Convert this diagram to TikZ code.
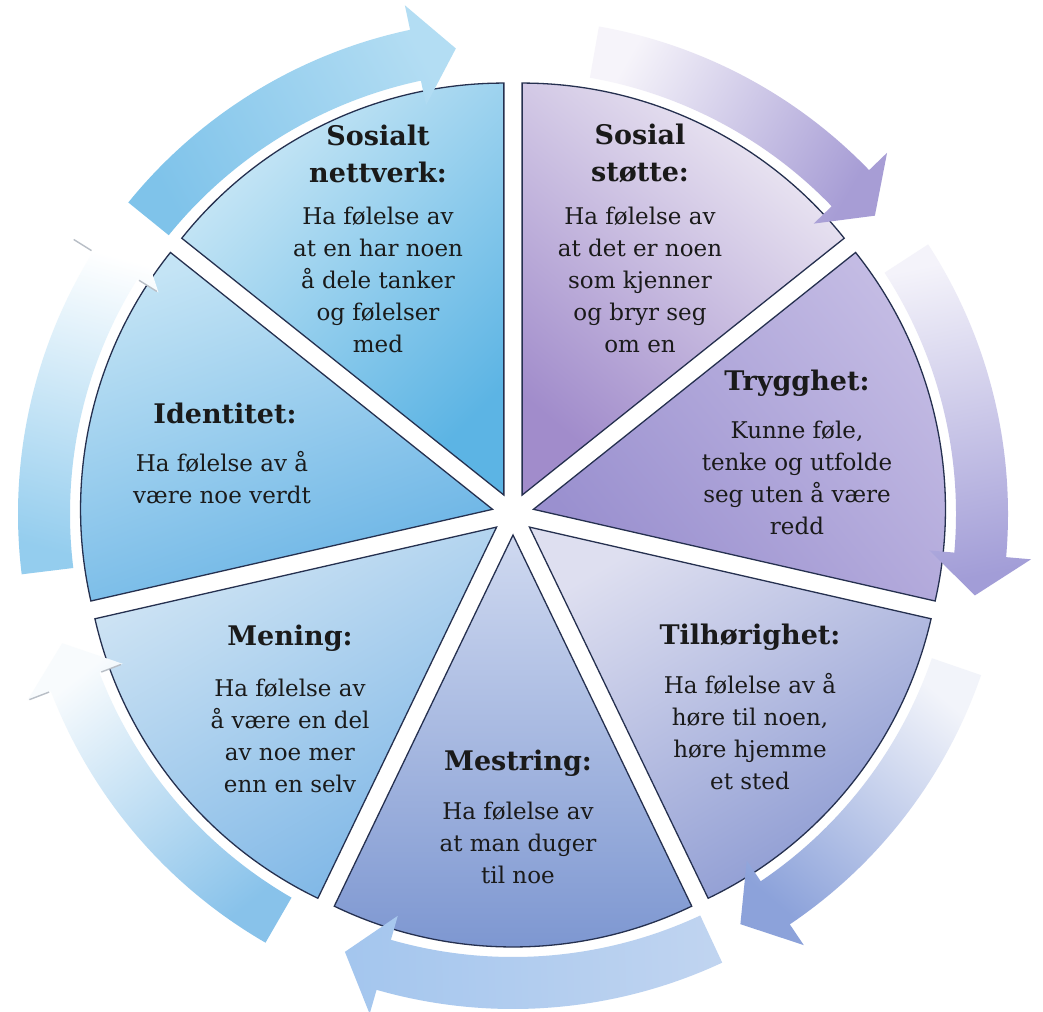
\documentclass[tikz,border=0pt]{standalone}
\usepackage{fontspec}
\setmainfont{DejaVu Serif}
\definecolor{outl}{HTML}{25304F}
\definecolor{txt}{HTML}{1A1A1A}
\definecolor{faint}{HTML}{B8BEC6}
\newcommand\pieslice[5]{%
  \definecolor{slA}{HTML}{#3}\definecolor{slB}{HTML}{#4}%
  \path[slice, top color=slA, bottom color=slB, shading angle=#5, shift={(C)}, shift={({(#1+#2)/2}:21pt)}]
    (0,0) -- (#1:412pt) arc[start angle=#1, end angle=#2, radius=412pt] -- cycle;}
\newcommand\circarrow[6]{%
  \definecolor{arA}{HTML}{#4}\definecolor{arB}{HTML}{#5}%
  \path[top color=arA, bottom color=arB, shading angle=#6, shift={(C)}]
    (#1:495pt) arc[start angle=#1, end angle=#2, radius=495pt] -- (#2:520pt) -- (#3:469pt)
    -- (#2:418pt) -- (#2:443pt) arc[start angle=#2, end angle=#1, radius=443pt] -- cycle;}
\newcommand\faintbase[1]{%
  \draw[faintline, shift={(C)}] (#1:497pt) -- (#1:518pt);
  \draw[faintline, shift={(C)}] (#1:420pt) -- (#1:441pt);}
\begin{document}
\begin{tikzpicture}[x=1pt,y=1pt,
  slice/.style={draw=outl, line width=1.3pt, line join=miter},
  faintline/.style={draw=faint, line width=1.4pt},
  ttl/.style={font=\fontsize{27}{37}\selectfont\bfseries, align=center, text=txt, inner sep=0pt},
  body/.style={font=\fontsize{23}{32}\selectfont, align=center, text=txt, inner sep=0pt}]
\useasboundingbox (0,0) rectangle (1043,1011);
\fill[white] (0,0) rectangle (1043,1011);
\coordinate (C) at (513,497);
% slices
\pieslice{90}{141.43}{CBE8F6}{5CB4E4}{45}
\pieslice{38.57}{90}{EEEAF4}{A18CCB}{-40}
\pieslice{-12.86}{38.57}{C4BCE4}{9A90CF}{-50}
\pieslice{-64.29}{-12.86}{DEDFF0}{8C9AD2}{30}
\pieslice{-115.71}{-64.29}{CFD9F0}{7B95D0}{0}
\pieslice{-167.14}{-115.71}{CFE4F4}{7DB6E6}{30}
\pieslice{141.43}{192.86}{C4E4F5}{68B3E5}{20}
% arrows
\circarrow{141}{102}{97}{7FC3EA}{B3DDF3}{119}
\circarrow{80}{44}{39.5}{F6F4FA}{A79DD5}{60}
\circarrow{33}{-5}{-10}{F4F3FA}{A29DD7}{11.5}
\circarrow{-19}{-56}{-61}{F2F4FA}{8CA2DA}{-40}
\circarrow{-65}{-106}{-111}{C0D4F0}{A4C6EE}{-88}
\circarrow{-120}{-159}{-164}{88C2EA}{F8FBFD}{-142}
\circarrow{187}{148}{143}{94CDEE}{FFFFFF}{165}
\faintbase{-159}
\faintbase{148}
% texts
\node[ttl] (t1) at (378,857.5) {Sosialt\\nettverk:};
\node[body] (b1) at (378,731.5) {Ha følelse av\\at en har noen\\å dele tanker\\og følelser\\med};
\node[ttl] (t2) at (640,857.5) {Sosial\\støtte:};
\node[body] (b2) at (640,731) {Ha følelse av\\at det er noen\\som kjenner\\og bryr seg\\om en};
\node[ttl] (t3) at (797,628) {Trygghet:};
\node[body] (b3) at (797,533) {Kunne føle,\\tenke og utfolde\\seg uten å være\\redd};
\node[ttl] (t4) at (750,374) {Tilhørighet:};
\node[body] (b4) at (750,279) {Ha følelse av å\\høre til noen,\\høre hjemme\\et sted};
\node[ttl] (t5) at (518,248) {Mestring:};
\node[body] (b5) at (518,168) {Ha følelse av\\at man duger\\til noe};
\node[ttl] (t6) at (290,373) {Mening:};
\node[body] (b6) at (290,275) {Ha følelse av\\å være en del\\av noe mer\\enn en selv};
\node[ttl] (t7) at (225,598) {Identitet:};
\node[body] (b7) at (222,533) {Ha følelse av å\\være noe verdt};
\end{tikzpicture}
\end{document}
